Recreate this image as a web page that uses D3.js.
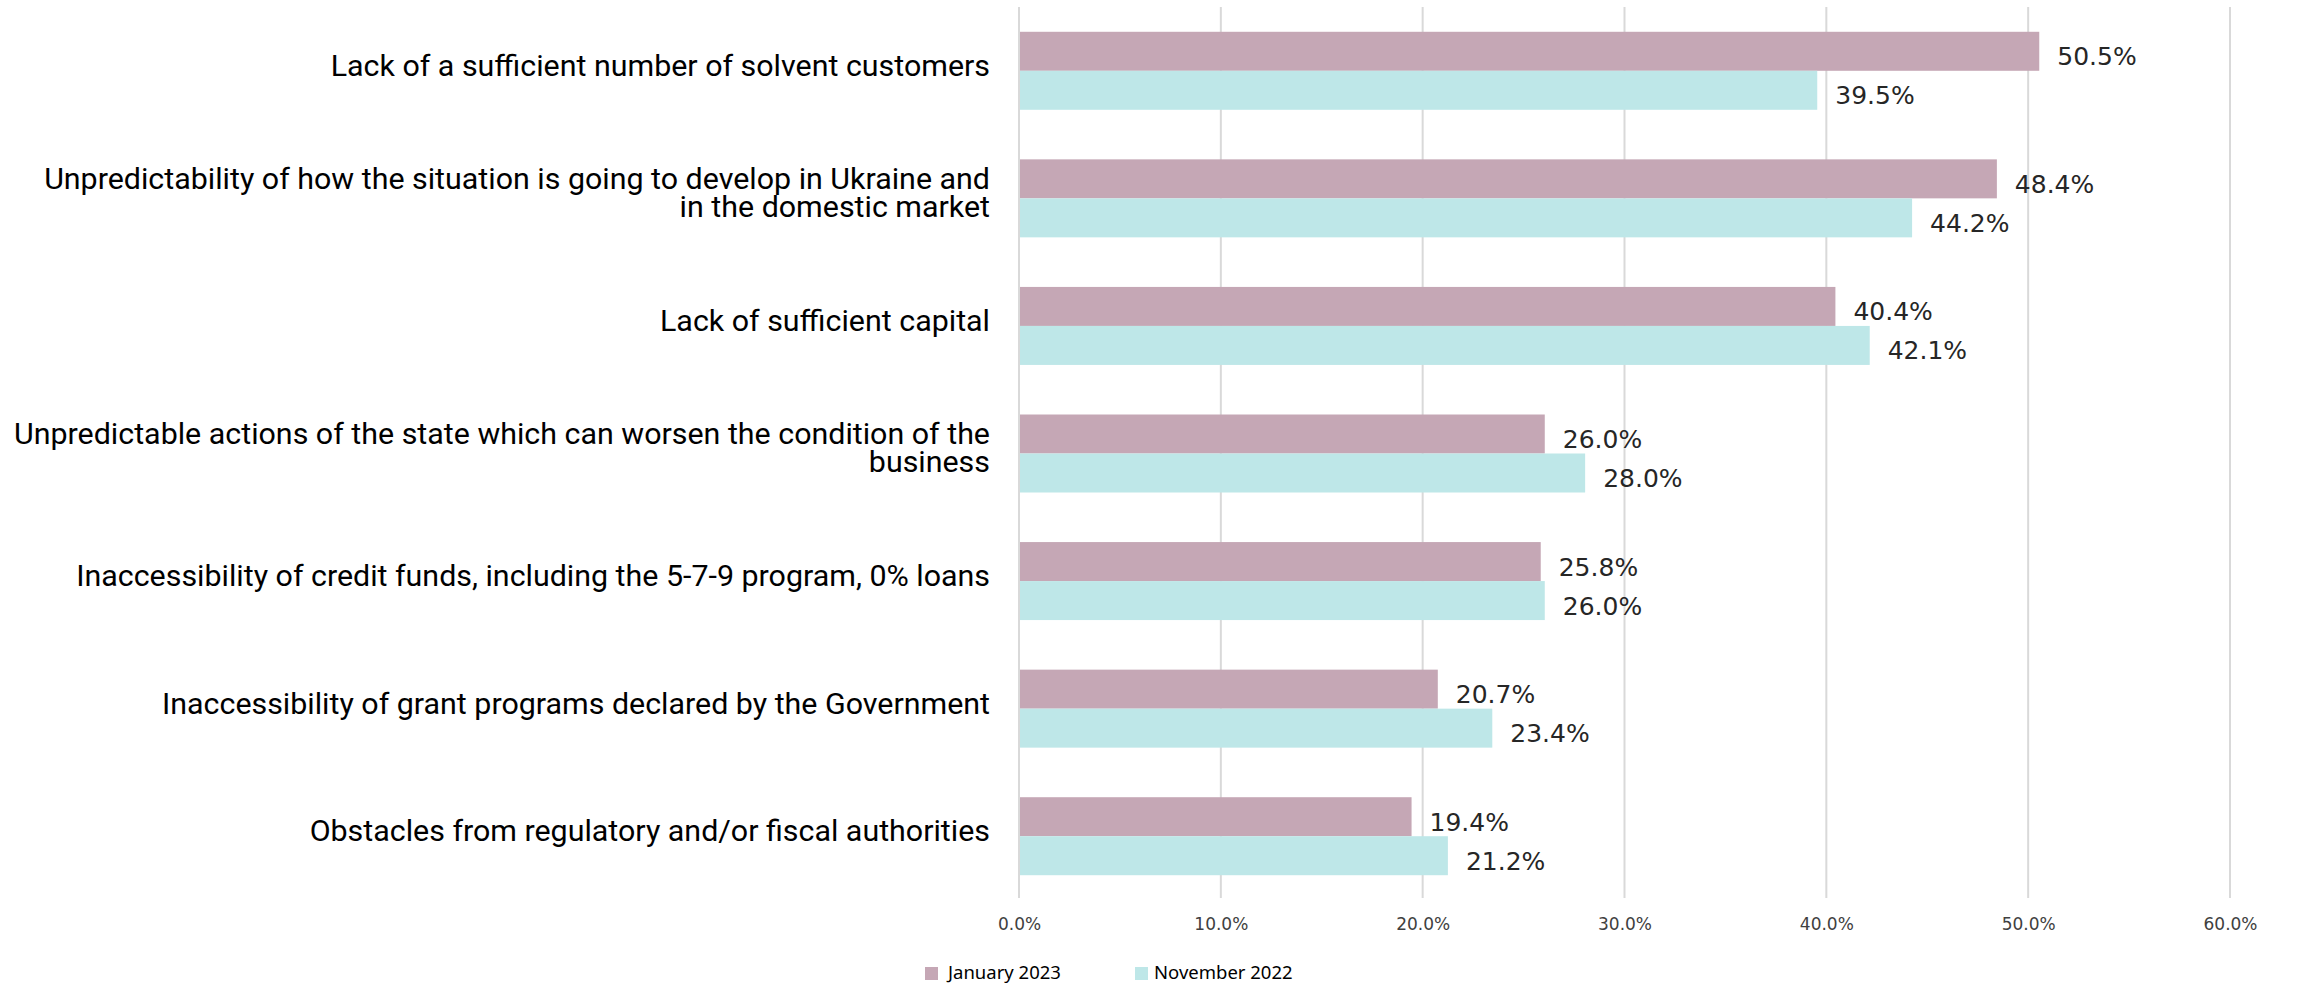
<!DOCTYPE html>
<html>
<head>
<meta charset="utf-8">
<script src="https://cdn.jsdelivr.net/npm/d3@7"></script>
<style>
  body { margin: 0; background: #fff; }
  svg { display: block; }
</style>
</head>
<body>
<svg id="chart"></svg>
<script>
// chart data
const categories = [
    "Lack of a sufficient number of solvent customers",
    "Unpredictability of how the situation is going to develop in Ukraine and\nin the domestic market",
    "Lack of sufficient capital",
    "Unpredictable actions of the state which can worsen the condition of the\nbusiness",
    "Inaccessibility of credit funds, including the 5-7-9 program, 0% loans",
    "Inaccessibility of grant programs declared by the Government",
    "Obstacles from regulatory and/or fiscal authorities"
];
const seriesNames = ["January 2023", "November 2022"];
const january2023 = [50.5, 48.4, 40.4, 26.0, 25.8, 20.7, 19.4];
const november2022 = [39.5, 44.2, 42.1, 28.0, 26.0, 23.4, 21.2];
const xTicks = [0, 10, 20, 30, 40, 50, 60];

const width = 2297, height = 983;
const colors = ["#c5a7b5", "#bee7e8"];

let svg = d3.select("#chart")
    .attr("width", width)
    .attr("height", height);

let rows = categories.map(function(c, i){
    return {name: c, values: [january2023[i], november2022[i]]};
});

let xScale = d3.scaleLinear()
    .domain([0, 60])
    .range([1020, 2231]);

let yScale = d3.scaleBand()
    .domain(categories)
    .range([7, 900])
    .padding(0);

// two bars of 39px centred in each band
let barH = 39;
let inner = d3.scaleBand()
    .domain(seriesNames)
    .range([yScale.bandwidth() / 2 - barH, yScale.bandwidth() / 2 + barH]);

// gridlines
svg.append("g").selectAll("line")
    .data(xTicks)
    .enter().append("line")
    .attr("x1", d => xScale(d) - 1)
    .attr("x2", d => xScale(d) - 1)
    .attr("y1", yScale.range()[0])
    .attr("y2", yScale.range()[1] - 2)
    .style("stroke", "#d9d9d9")
    .style("stroke-width", 2);

// x axis labels
let xAxis = d3.axisBottom(xScale)
    .tickValues(xTicks)
    .tickSize(0)
    .tickPadding(0)
    .tickFormat(d => d3.format(".1f")(d) + "%");

let xAxisG = svg.append("g")
    .attr("transform", "translate(-1,918)")
    .call(xAxis);
xAxisG.select(".domain").remove();
xAxisG.selectAll("text")
    .attr("dy", "0.71em")
    .style("font-family", "DejaVu Sans")
    .style("font-size", "17px")
    .style("fill", "#404040");

// bars
let groups = svg.append("g").selectAll(".group")
    .data(rows)
    .enter().append("g")
    .attr("class", "group")
    .attr("transform", d => "translate(0," + yScale(d.name) + ")");

groups.selectAll("rect")
    .data(d => d.values.map((v, i) => ({series: seriesNames[i], value: v, idx: i})))
    .enter().append("rect")
    .attr("x", xScale(0))
    .attr("y", d => inner(d.series))
    .attr("width", d => xScale(d.value) - xScale(0))
    .attr("height", inner.bandwidth())
    .style("fill", d => colors[d.idx]);

groups.selectAll(".value")
    .data(d => d.values.map((v, i) => ({series: seriesNames[i], value: v})))
    .enter().append("text")
    .attr("class", "value")
    .attr("x", d => xScale(d.value) + 18)
    .attr("y", d => inner(d.series) + inner.bandwidth() / 2 + 14)
    .style("font-family", "DejaVu Sans")
    .style("font-size", "25px")
    .style("fill", "#262626")
    .text(d => d3.format(".1f")(d.value) + "%");

// category labels, right aligned against the axis
let labels = groups.append("text")
    .attr("class", "cat")
    .attr("x", 990)
    .attr("text-anchor", "end")
    .style("font-family", "Roboto")
    .style("font-size", "30.4px")
    .style("fill", "#000");

labels.each(function(d){
    let lines = d.name.split("\n");
    let lh = 28;
    let mid = yScale.bandwidth() / 2;
    let first = mid + 5 - (lines.length - 1) * lh / 2;
    let t = d3.select(this);
    lines.forEach(function(l, i){
        t.append("tspan")
            .attr("x", 990)
            .attr("y", first + i * lh)
            .text(l);
    });
});

// legend
let legendX = [925, 1135];
let legend = svg.append("g").selectAll(".legend")
    .data(seriesNames)
    .enter().append("g")
    .attr("class", "legend")
    .attr("transform", (d, i) => "translate(" + legendX[i] + ",967)");

legend.append("rect")
    .attr("width", 13)
    .attr("height", 13)
    .style("fill", (d, i) => colors[i]);

legend.append("text")
    .attr("x", (d, i) => i === 0 ? 23 : 19)
    .attr("y", 12)
    .style("font-family", "Noto Sans")
    .style("font-size", "18.5px")
    .style("fill", "#000")
    .text(d => d);
</script>
</body>
</html>
